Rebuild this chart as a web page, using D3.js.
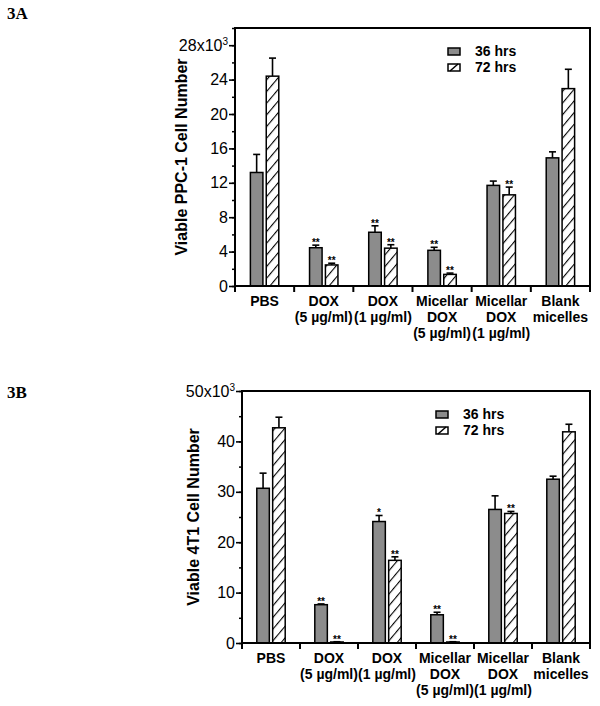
<!DOCTYPE html>
<html>
<head>
<meta charset="utf-8">
<script src="https://cdn.jsdelivr.net/npm/d3@7"></script>
<style>
  body { margin: 0; background: #fff; }
  svg { display: block; }
  text { font-family: "Liberation Sans", Arial, sans-serif; fill: #000; }
</style>
</head>
<body>
<svg width="600" height="706"></svg>
<script>
// Category labels (line by line) and series
const categories = ['PBS', 'DOX5', 'DOX1', 'MIC5', 'MIC1', 'Blank'];
const categoryLines = [
  ['PBS'],
  ['DOX', '(5 µg/ml)'],
  ['DOX', '(1 µg/ml)'],
  ['Micellar', 'DOX', '(5 µg/ml)'],
  ['Micellar', 'DOX', '(1 µg/ml)'],
  ['Blank', 'micelles']
];
const seriesNames = ['36 hrs', '72 hrs'];

// Panel 3A: PPC-1 (x10^3)
const ppc36 = [13.2, 4.45, 6.25, 4.15, 11.7, 14.9];
const ppc36Err = [2.1, 0.3, 0.75, 0.35, 0.5, 0.7];
const ppc72 = [24.4, 2.45, 4.4, 1.35, 10.6, 22.95];
const ppc72Err = [2.1, 0.2, 0.4, 0.15, 0.9, 2.25];
const ppcStars = [['', ''], ['**', '**'], ['**', '**'], ['**', '**'], ['', '**'], ['', '']];
const ppcTicks = [0, 4, 8, 12, 16, 20, 24, 28];

// Panel 3B: 4T1 (x10^3)
const t4t1_36 = [30.7, 7.6, 24.1, 5.6, 26.5, 32.5];
const t4t1_36Err = [3.0, 0.15, 1.2, 0.5, 2.7, 0.6];
const t4t1_72 = [42.7, 0.2, 16.4, 0.2, 25.7, 41.9];
const t4t1_72Err = [2.1, 0.05, 0.7, 0.05, 0.4, 1.5];
const t4t1Stars = [['', ''], ['**', '**'], ['*', '**'], ['**', '**'], ['', '**'], ['', '']];
const t4t1Ticks = [0, 10, 20, 30, 40, 50];

const svg = d3.select('svg');

// hatch pattern for 72 hrs
svg.append('defs').append('pattern')
  .attr('id', 'hatch')
  .attr('patternUnits', 'userSpaceOnUse')
  .attr('width', 7.5)
  .attr('height', 10)
  .attr('patternTransform', 'rotate(40)')
  .call(p => {
    p.append('rect').attr('width', 7.5).attr('height', 10).attr('fill', '#fff');
    p.append('line').attr('x1', 0).attr('y1', 0).attr('x2', 0).attr('y2', 10)
      .attr('stroke', '#000').attr('stroke-width', 2.2);
  });

const fills = ['#8c8c8c', 'url(#hatch)'];

function drawPanel(cfg) {
  const g = svg.append('g');

  // panel letter
  svg.append('text')
    .attr('x', 7).attr('y', cfg.letterY)
    .style('font-family', '"Liberation Serif", "Times New Roman", serif')
    .style('font-weight', 'bold').style('font-size', '17px')
    .text(cfg.letter);

  const x = d3.scaleBand().domain(categories).range([cfg.left, cfg.right]);
  const bw = x.bandwidth();
  const xs = d3.scaleBand().domain(seriesNames)
    .range([bw / 2 - 14.2, bw / 2 + 14.2]).paddingInner(0.21);
  const y = d3.scaleLinear().domain([0, cfg.max]).range([cfg.bottom, cfg.top]);

  const rows = categories.map((c, i) => ({
    cat: c,
    bars: seriesNames.map((s, j) => ({
      s: s,
      v: cfg.values[j][i],
      e: cfg.errors[j][i],
      star: cfg.stars[i][j],
      fill: fills[j]
    }))
  }));

  const grp = g.selectAll('g.cat').data(rows).join('g')
    .attr('class', 'cat')
    .attr('transform', d => `translate(${x(d.cat)},0)`);

  const bar = grp.selectAll('g.bar').data(d => d.bars).join('g').attr('class', 'bar');

  // error bars (upward only)
  bar.append('line')
    .attr('x1', d => xs(d.s) + xs.bandwidth() / 2)
    .attr('x2', d => xs(d.s) + xs.bandwidth() / 2)
    .attr('y1', d => y(d.v))
    .attr('y2', d => y(d.v + d.e))
    .attr('stroke', '#000').attr('stroke-width', 1.6);
  bar.append('line')
    .attr('x1', d => xs(d.s) + xs.bandwidth() / 2 - 3.5)
    .attr('x2', d => xs(d.s) + xs.bandwidth() / 2 + 3.5)
    .attr('y1', d => y(d.v + d.e))
    .attr('y2', d => y(d.v + d.e))
    .attr('stroke', '#000').attr('stroke-width', 1.6);

  bar.append('rect')
    .attr('x', d => xs(d.s))
    .attr('width', xs.bandwidth())
    .attr('y', d => y(d.v))
    .attr('height', d => y(0) - y(d.v))
    .attr('fill', d => d.fill)
    .attr('stroke', '#000').attr('stroke-width', 1.5);

  bar.filter(d => d.star).append('text')
    .attr('x', d => xs(d.s) + xs.bandwidth() / 2)
    .attr('y', d => y(d.v + d.e) + 1)
    .attr('text-anchor', 'middle')
    .attr('fill', '#000')
    .style('font-size', '10px').style('font-weight', 'bold')
    .text(d => d.star);

  // frame
  g.append('rect')
    .attr('x', cfg.left).attr('y', cfg.top)
    .attr('width', cfg.right - cfg.left).attr('height', cfg.bottom - cfg.top)
    .attr('fill', 'none').attr('stroke', '#000').attr('stroke-width', 2);

  // y axis
  const minor = d3.range(0, cfg.max + 0.001, cfg.step / 2);
  g.append('g')
    .attr('transform', `translate(${cfg.left},0)`)
    .call(d3.axisLeft(y).tickValues(minor).tickSize(3).tickFormat(''))
    .call(a => a.select('.domain').remove())
    .call(a => a.selectAll('line').attr('stroke-width', 1.5));
  const yAxis = g.append('g')
    .attr('transform', `translate(${cfg.left},0)`)
    .call(d3.axisLeft(y).tickValues(cfg.ticks).tickSize(6).tickPadding(1))
    .call(a => a.select('.domain').remove())
    .call(a => a.selectAll('line').attr('stroke-width', 1.6));
  yAxis.selectAll('text')
    .style('font-size', '16px').attr('fill', '#000')
    .each(function (d) {
      if (d === cfg.ticks[cfg.ticks.length - 1]) {
        const t = d3.select(this).text('');
        t.append('tspan').text(d + 'x10');
        t.append('tspan').attr('dy', '-0.6em').style('font-size', '10px').text('3');
      }
    });

  g.append('text')
    .attr('transform', `translate(${cfg.labelX},${(cfg.top + cfg.bottom) / 2}) rotate(-90)`)
    .attr('text-anchor', 'middle')
    .style('font-size', '16px').style('font-weight', 'bold')
    .text(cfg.yLabel);

  // x axis separators
  const seps = categories.map(c => x(c)).concat([cfg.right]);
  g.selectAll('line.sep').data(seps).join('line')
    .attr('class', 'sep')
    .attr('x1', d => d).attr('x2', d => d)
    .attr('y1', cfg.bottom).attr('y2', cfg.bottom + 6)
    .attr('stroke', '#000').attr('stroke-width', 2);

  // category labels
  const lab = g.selectAll('text.cat').data(categories).join('text')
    .attr('class', 'cat')
    .attr('text-anchor', 'middle')
    .style('font-size', '14px').style('font-weight', 'bold');
  lab.each(function (c, i) {
    const t = d3.select(this);
    categoryLines[i].forEach((ln, k) => {
      t.append('tspan')
        .attr('x', x(c) + bw / 2)
        .attr('y', cfg.bottom + 20 + k * 16)
        .text(ln);
    });
  });

  // legend
  const leg = g.append('g').attr('transform', `translate(${cfg.legX},${cfg.legY})`);
  seriesNames.forEach((s, j) => {
    leg.append('rect')
      .attr('x', 0).attr('y', j * 16)
      .attr('width', 12).attr('height', 7)
      .attr('fill', j === 0 ? fills[0] : '#fff')
      .attr('stroke', '#000').attr('stroke-width', 1.5);
    if (j === 1) {
      leg.append('line')
        .attr('x1', 2).attr('y1', j * 16 + 7).attr('x2', 10).attr('y2', j * 16)
        .attr('stroke', '#000').attr('stroke-width', 1.5);
    }
    leg.append('text')
      .attr('x', 27).attr('y', j * 16 + 8)
      .style('font-size', '14px').style('font-weight', 'bold')
      .text(s);
  });
}

drawPanel({
  letter: '3A', letterY: 19,
  left: 235, right: 590, top: 28, bottom: 286, max: 30, step: 4,
  ticks: ppcTicks,
  values: [ppc36, ppc72], errors: [ppc36Err, ppc72Err], stars: ppcStars,
  yLabel: 'Viable PPC-1 Cell Number', labelX: 187,
  legX: 448, legY: 48
});

drawPanel({
  letter: '3B', letterY: 398,
  left: 242, right: 590, top: 391, bottom: 643, max: 50, step: 10,
  ticks: t4t1Ticks,
  values: [t4t1_36, t4t1_72], errors: [t4t1_36Err, t4t1_72Err], stars: t4t1Stars,
  yLabel: 'Viable 4T1 Cell Number', labelX: 199,
  legX: 436, legY: 411
});
</script>
</body>
</html>
